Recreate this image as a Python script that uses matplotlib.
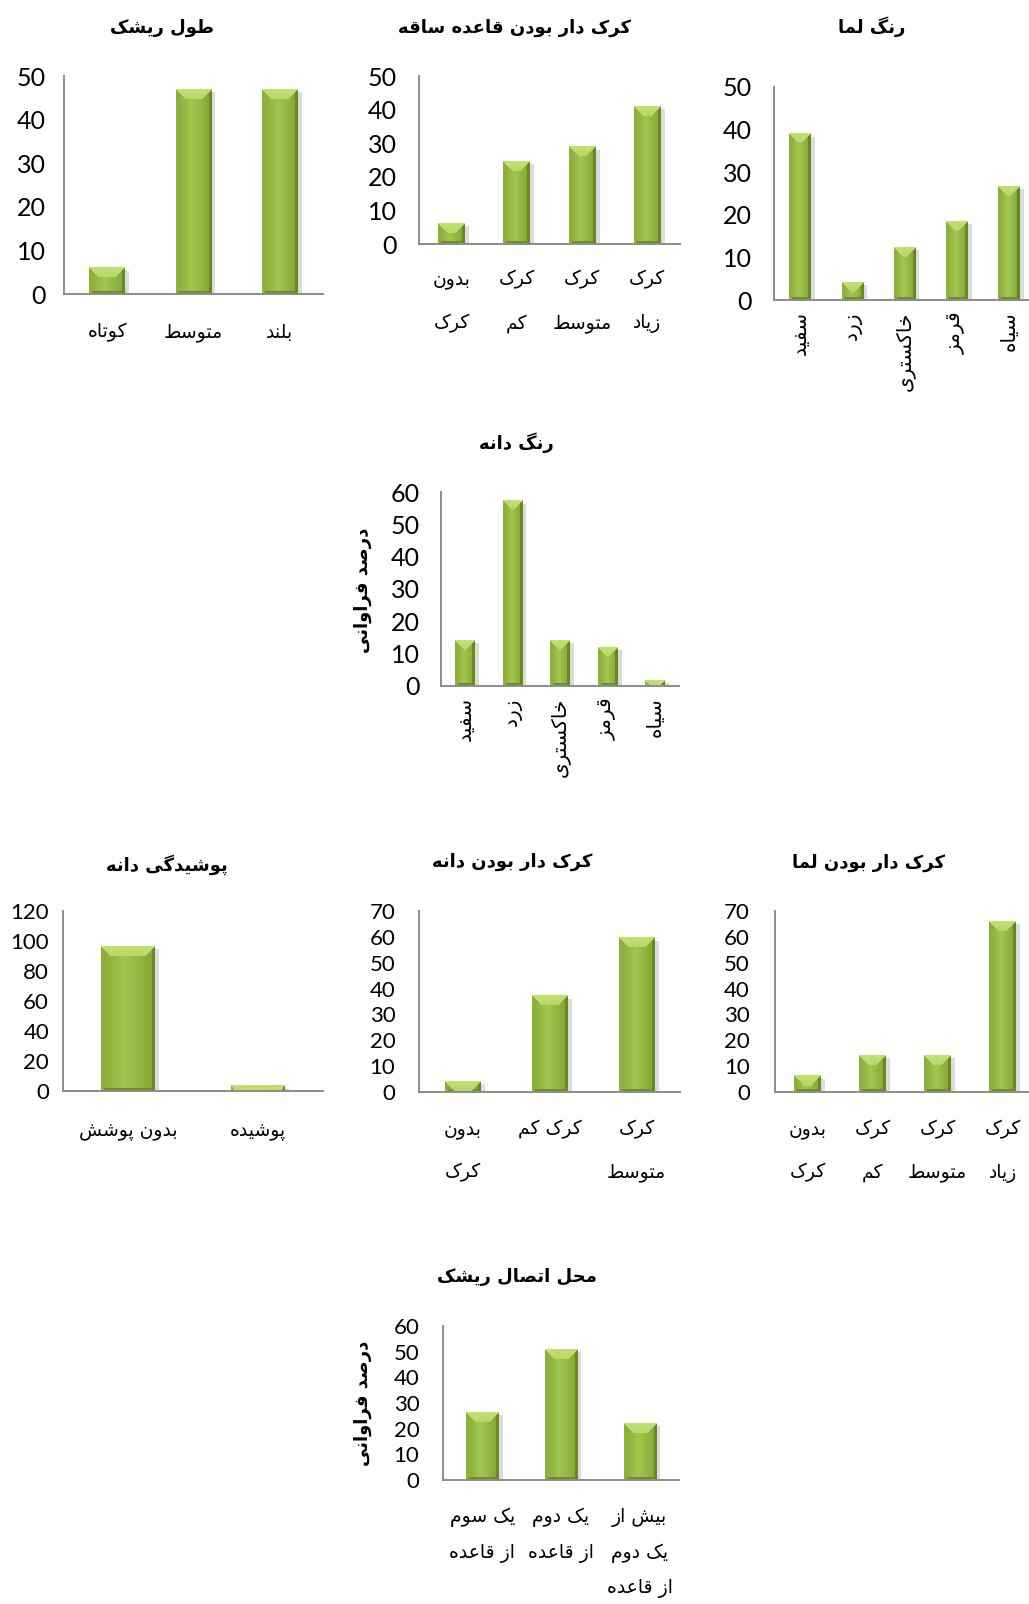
import numpy as np
import matplotlib
matplotlib.use("Agg")
import matplotlib.pyplot as plt
import matplotlib.patheffects as pe

# ---- data ----
t1_title = 'طول ریشک'
t1_cats = ['کوتاه', 'متوسط', 'بلند']
t1_vals = [6, 47, 47]

t2_title = 'کرک دار بودن قاعده ساقه'
t2_cats = ['بدون\nکرک', 'کرک\nکم', 'کرک\nمتوسط', 'کرک\nزیاد']
t2_vals = [6.2, 24.6, 28.9, 41]

t3_title = 'رنگ لما'
t3_cats = ['سفید', 'زرد', 'خاکستری', 'قرمز', 'سیاه']
t3_vals = [39, 4.2, 12.4, 18.5, 26.7]

t4_title = 'رنگ دانه'
t4_cats = ['سفید', 'زرد', 'خاکستری', 'قرمز', 'سیاه']
t4_vals = [14.1, 57.3, 14.1, 12, 1.8]

t5_title = 'پوشیدگی دانه'
t5_cats = ['بدون پوشش', 'پوشیده']
t5_vals = [96.5, 3.5]

t6_title = 'کرک دار بودن دانه'
t6_cats = ['بدون\nکرک', 'کرک کم', 'کرک\nمتوسط']
t6_vals = [4.2, 37.2, 59.6]

t7_title = 'کرک دار بودن لما'
t7_cats = ['بدون\nکرک', 'کرک\nکم', 'کرک\nمتوسط', 'کرک\nزیاد']
t7_vals = [6.2, 14.3, 14.3, 66]

t8_title = 'محل اتصال ریشک'
t8_cats = ['یک سوم\nاز قاعده', 'یک دوم\nاز قاعده', 'بیش از\nیک دوم\nاز قاعده']
t8_vals = [26.4, 50.9, 22.1]

y_label = 'درصد فراوانی'

# ---- simple Persian shaping (matplotlib has no RTL/joining support) ----
FORMS = {
    'ا': (0xFE8D, 0xFE8E), 'آ': (0xFE81, 0xFE82), 'د': (0xFEA9, 0xFEAA),
    'ذ': (0xFEAB, 0xFEAC), 'ر': (0xFEAD, 0xFEAE), 'ز': (0xFEAF, 0xFEB0),
    'ژ': (0xFB8A, 0xFB8B), 'و': (0xFEED, 0xFEEE),
    'ب': (0xFE8F, 0xFE90, 0xFE91, 0xFE92), 'پ': (0xFB56, 0xFB57, 0xFB58, 0xFB59),
    'ت': (0xFE95, 0xFE96, 0xFE97, 0xFE98), 'ث': (0xFE99, 0xFE9A, 0xFE9B, 0xFE9C),
    'ج': (0xFE9D, 0xFE9E, 0xFE9F, 0xFEA0), 'چ': (0xFB7A, 0xFB7B, 0xFB7C, 0xFB7D),
    'ح': (0xFEA1, 0xFEA2, 0xFEA3, 0xFEA4), 'خ': (0xFEA5, 0xFEA6, 0xFEA7, 0xFEA8),
    'س': (0xFEB1, 0xFEB2, 0xFEB3, 0xFEB4), 'ش': (0xFEB5, 0xFEB6, 0xFEB7, 0xFEB8),
    'ص': (0xFEB9, 0xFEBA, 0xFEBB, 0xFEBC), 'ض': (0xFEBD, 0xFEBE, 0xFEBF, 0xFEC0),
    'ط': (0xFEC1, 0xFEC2, 0xFEC3, 0xFEC4), 'ظ': (0xFEC5, 0xFEC6, 0xFEC7, 0xFEC8),
    'ع': (0xFEC9, 0xFECA, 0xFECB, 0xFECC), 'غ': (0xFECD, 0xFECE, 0xFECF, 0xFED0),
    'ف': (0xFED1, 0xFED2, 0xFED3, 0xFED4), 'ق': (0xFED5, 0xFED6, 0xFED7, 0xFED8),
    'ک': (0xFB8E, 0xFB8F, 0xFB90, 0xFB91), 'گ': (0xFB92, 0xFB93, 0xFB94, 0xFB95),
    'ل': (0xFEDD, 0xFEDE, 0xFEDF, 0xFEE0), 'م': (0xFEE1, 0xFEE2, 0xFEE3, 0xFEE4),
    'ن': (0xFEE5, 0xFEE6, 0xFEE7, 0xFEE8), 'ه': (0xFEE9, 0xFEEA, 0xFEEB, 0xFEEC),
    'ی': (0xFBFC, 0xFBFD, 0xFBFE, 0xFBFF),
}


def fa(text):
    lines = []
    for line in text.split('\n'):
        out = []
        for i, c in enumerate(line):
            if c not in FORMS:
                out.append(c)
                continue
            prev = line[i - 1] if i > 0 else None
            nxt = line[i + 1] if i + 1 < len(line) else None
            f = FORMS[c]
            jp = prev in FORMS and len(FORMS[prev]) == 4
            jn = len(f) == 4 and nxt in FORMS
            idx = 3 if (jp and jn) else 1 if jp else 2 if jn else 0
            out.append(chr(f[idx]))
        lines.append(''.join(reversed(out)))
    return '\n'.join(lines)


FA_FONT = ['DejaVu Sans']
NUM_FONT = ['Lato', 'DejaVu Sans']

FIG_W, FIG_H = 1029, 1604
fig = plt.figure(figsize=(FIG_W / 100, FIG_H / 100), dpi=100)
fig.patch.set_facecolor('white')

C_CENTER = np.array([0xA2, 0xC7, 0x50]) / 255
C_EDGE = np.array([0x84, 0xA9, 0x35]) / 255
C_TOP = np.array([0xC3, 0xE0, 0x74]) / 255
C_LEFT = np.array([0x8C, 0xB0, 0x3E]) / 255
C_RIGHT = np.array([0x68, 0x88, 0x26]) / 255
C_BOT = np.array([0x6E, 0x8E, 0x2A]) / 255


def bevel(ax, bar):
    x0, w, h = bar.get_x(), bar.get_width(), bar.get_height()
    p0 = ax.transData.transform((x0, 0))
    p1 = ax.transData.transform((x0 + w, h))
    W = max(int(round(p1[0] - p0[0])), 2)
    H = max(int(round(p1[1] - p0[1])), 1)
    U, V = np.meshgrid(np.arange(W) + 0.5, np.arange(H) + 0.5)
    dl, dr, dt, db = U, W - U, V, H - V
    s = np.clip(np.abs(U / W - 0.45) * 2.2, 0, 1)[..., None]
    img = C_CENTER * (1 - s) + C_EDGE * s
    top = (dt < 10) & (dt <= dl) & (dt <= dr)
    left = (dl < 3.5) & ~top
    right = (dr < 3.5) & ~top
    bot = (db < 3) & ~top & ~left & ~right
    tg = np.clip(dt / 10, 0, 1)[..., None]
    top_col = C_TOP * (1 - 0.35 * tg) + C_CENTER * 0.35 * tg
    img = np.where(top[..., None], top_col, img)
    img[left] = C_LEFT
    img[right] = C_RIGHT
    img[bot] = C_BOT
    ax.imshow(img, extent=(x0, x0 + w, 0, h), aspect='auto',
              interpolation='nearest', zorder=3)


def panel(title, cats, vals, ymax, step, box, tpos, fs, ypad, xpad,
          rot=0, lsp=2.6, cfs=13.5, ylab=None):
    x0, y0, x1, y1 = box
    ax = fig.add_axes([x0 / FIG_W, 1 - y1 / FIG_H, (x1 - x0) / FIG_W, (y1 - y0) / FIG_H])
    x = np.arange(len(vals))
    bars = ax.bar(x, vals, width=0.41, color='#94B843', zorder=2,
                  path_effects=[pe.SimplePatchShadow(offset=(3, -2), shadow_rgbFace='#9a9a9a', alpha=0.35),
                                pe.Normal()])
    ax.set_xlim(-0.5, len(vals) - 0.5)
    ax.set_ylim(0, ymax)
    for b in bars:
        bevel(ax, b)
    ax.set_xlim(-0.5, len(vals) - 0.5)
    ax.set_ylim(0, ymax)
    for side in ('top', 'right'):
        ax.spines[side].set_visible(False)
    for side in ('left', 'bottom'):
        ax.spines[side].set_color('#8C8C8C')
        ax.spines[side].set_linewidth(1.4)
        ax.spines[side].set_zorder(5)
    ticks = np.arange(0, ymax + 1, step)
    ax.set_yticks(ticks)
    ax.set_yticklabels([str(int(v)) for v in ticks], family=NUM_FONT, fontsize=fs)
    ax.tick_params(axis='y', length=0, pad=ypad)
    ax.set_xticks(x)
    if rot:
        ax.set_xticklabels([fa(c) for c in cats], family=FA_FONT, fontsize=cfs,
                           rotation=90, va='top', ha='center')
    else:
        ax.set_xticklabels([fa(c) for c in cats], family=FA_FONT, fontsize=cfs,
                           linespacing=lsp, multialignment='center')
    ax.tick_params(axis='x', length=0, pad=xpad)
    ax.set_facecolor('none')
    fig.text(tpos[0] / FIG_W, 1 - tpos[1] / FIG_H, fa(title), ha='center', va='center',
             fontsize=13, fontweight='bold', family=FA_FONT)
    if ylab:
        fig.text(ylab[0] / FIG_W, 1 - ylab[1] / FIG_H, fa(y_label), ha='center', va='center',
                 rotation=90, fontsize=13, fontweight='bold', family=FA_FONT)
    return ax


panel(t1_title, t1_cats, t1_vals, 50, 10, (64, 76, 323, 294), (162, 28), 18, 13, 21)
panel(t2_title, t2_cats, t2_vals, 50, 10, (419, 76, 680, 244), (515, 28), 18, 16, 19)
panel(t3_title, t3_cats, t3_vals, 50, 10, (774, 87, 1035, 300), (872, 27), 18, 16, 8,
      rot=90, cfs=14.5)
panel(t4_title, t4_cats, t4_vals, 60, 10, (441, 492, 679, 686), (516, 443), 18, 15, 8,
      rot=90, cfs=14.5, ylab=(363, 590))
panel(t5_title, t5_cats, t5_vals, 120, 20, (63, 911, 323, 1091), (167, 865), 16, 10, 22)
panel(t6_title, t6_cats, t6_vals, 70, 10, (419, 911, 680, 1092), (512, 862), 16, 17, 20)
panel(t7_title, t7_cats, t7_vals, 70, 10, (775, 911, 1035, 1092), (869, 863), 16, 18, 20)
panel(t8_title, t8_cats, t8_vals, 60, 10, (443, 1326, 679, 1480), (517, 1277), 16, 17, 20,
      lsp=2.05, ylab=(363, 1403))

fig.savefig('out.png', dpi=100, facecolor='white')
